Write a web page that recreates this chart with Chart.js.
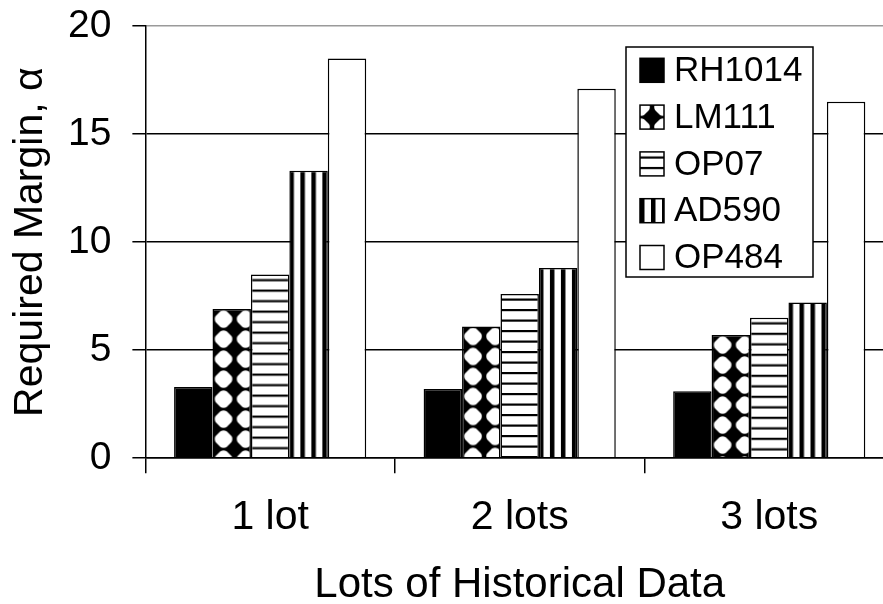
<!DOCTYPE html>
<html>
<head>
<meta charset="utf-8">
<script src="https://cdn.jsdelivr.net/npm/chart.js@4.4.1/dist/chart.umd.min.js"></script>
<style>
  html, body { margin: 0; padding: 0; background: #fff; overflow: hidden; }
  /* plot runs a little past the right edge of the window, like the cropped figure */
  #wrap { width: 894px; height: 604px; }
</style>
</head>
<body>
<div id="wrap"><canvas id="marginChart"></canvas></div>
<script>
// === DATA ===
const lots = ['1 lot', '2 lots', '3 lots'];
const parts = ['RH1014', 'LM111', 'OP07', 'AD590', 'OP484'];
const rh1014 = [3.3, 3.2, 3.1];
const lm111 = [6.9, 6.1, 5.7];
const op07 = [8.5, 7.6, 6.5];
const ad590 = [13.3, 8.8, 7.2];
const op484 = [18.5, 17.1, 16.5];
const yTicks = [0, 5, 10, 15, 20];

const FONT = "'Liberation Sans', Arial, sans-serif";

// === FILL PATTERNS (black & white hatching like the print) ===
function makeTile(kind) {
    const c = document.createElement('canvas');
    const g = c.getContext('2d');
    if (kind === 'diamond') {
        c.width = 22; c.height = 20;
        g.fillStyle = '#000'; g.fillRect(0, 0, 22, 20);
        g.fillStyle = '#fff';
        g.beginPath(); g.arc(11, 10, 8.8, 0, Math.PI * 2); g.fill();
        g.fillStyle = '#000';
        [[0, 0], [22, 0], [0, 20], [22, 20]].forEach(([cx, cy]) => {
            g.beginPath();
            g.moveTo(cx - 10, cy); g.lineTo(cx, cy - 10); g.lineTo(cx + 10, cy); g.lineTo(cx, cy + 10);
            g.closePath(); g.fill();
        });
    } else if (kind === 'hlines') {
        c.width = 4; c.height = 21;
        g.fillStyle = '#fff'; g.fillRect(0, 0, 4, 21);
        g.fillStyle = '#000';
        g.fillRect(0, 4.5, 4, 2.2);
        g.fillRect(0, 15, 4, 2.2);
    } else if (kind === 'vlines') {
        c.width = 11; c.height = 4;
        g.fillStyle = '#fff'; g.fillRect(0, 0, 11, 4);
        g.fillStyle = '#000';
        g.fillRect(0, 0, 4.5, 4);
    }
    return c;
}

const fillKinds = ['solid', 'diamond', 'hlines', 'vlines', 'white'];
const tmpCtx = document.createElement('canvas').getContext('2d');

function makeFill(kind) {
    if (kind === 'solid') return '#000';
    if (kind === 'white') return '#fff';
    return tmpCtx.createPattern(makeTile(kind), 'repeat');
}

// one pattern per bar so each can be lined up with its own bar
function barFills(kind) {
    return lots.map(() => makeFill(kind));
}

const seriesValues = [rh1014, lm111, op07, ad590, op484];

const datasets = parts.map((name, i) => ({
    label: name,
    data: seriesValues[i],
    backgroundColor: barFills(fillKinds[i]),
    borderColor: '#000',
    borderWidth: 1.5,
    borderSkipped: 'start',
    categoryPercentage: 0.77,
    barPercentage: 1.0
}));

const legendFills = fillKinds.map(makeFill);

// === PLUGINS ===
// line patterns up with each bar's top-left corner
const alignPatterns = {
    id: 'alignPatterns',
    beforeDatasetsDraw(chart) {
        chart.data.datasets.forEach((ds, i) => {
            const meta = chart.getDatasetMeta(i);
            meta.data.forEach((bar, j) => {
                const bg = ds.backgroundColor[j];
                if (bg instanceof CanvasPattern) {
                    bg.setTransform(new DOMMatrix().translate(bar.x - bar.width / 2, bar.y));
                }
            });
        });
    }
};

// boxed legend inside the plot, top right
const boxLegend = {
    id: 'boxLegend',
    afterDatasetsDraw(chart, args, opts) {
        const ctx = chart.ctx;
        const { left, top, right, bottom, rowStart, rowGap, swatchX, swatch, textX } = opts;
        ctx.save();
        ctx.fillStyle = '#fff';
        ctx.fillRect(left, top, right - left, bottom - top);
        ctx.strokeStyle = '#000';
        ctx.lineWidth = 1.5;
        ctx.strokeRect(left, top, right - left, bottom - top);

        ctx.font = opts.fontSize + 'px ' + FONT;
        ctx.textBaseline = 'middle';
        ctx.textAlign = 'left';
        chart.data.datasets.forEach((ds, i) => {
            const cy = rowStart + i * rowGap;
            const sy = cy - swatch / 2;
            const fill = legendFills[i];
            if (fill instanceof CanvasPattern) {
                const dx = fillKinds[i] === 'diamond' ? swatchX + swatch / 2 : swatchX;
                const dy = fillKinds[i] === 'diamond' ? cy : sy;
                fill.setTransform(new DOMMatrix().translate(dx, dy));
            }
            ctx.fillStyle = fill;
            ctx.fillRect(swatchX, sy, swatch, swatch);
            ctx.strokeStyle = '#000';
            ctx.lineWidth = 1.5;
            ctx.strokeRect(swatchX, sy, swatch, swatch);
            ctx.fillStyle = '#000';
            ctx.fillText(ds.label, textX, cy + 1);
        });
        ctx.restore();
    }
};

// === CHART ===
const ctx = document.getElementById('marginChart').getContext('2d');
const marginChart = new Chart(ctx, {
    type: 'bar',
    data: { labels: lots, datasets: datasets },
    options: {
        responsive: true,
        maintainAspectRatio: false,
        animation: false,
        layout: { padding: { top: 26, right: 0, bottom: 2, left: 0 } },
        scales: {
            x: {
                grid: {
                    offset: true,
                    drawOnChartArea: false,
                    drawTicks: true,
                    tickLength: 15,
                    color: '#000',
                    lineWidth: 1.5
                },
                border: { display: true, color: '#000', width: 1.5, z: 1 },
                ticks: {
                    color: '#000',
                    font: { family: FONT, size: 41 },
                    padding: 20,
                    maxRotation: 0,
                    autoSkip: false
                },
                title: {
                    display: true,
                    text: 'Lots of Historical Data',
                    color: '#000',
                    font: { family: FONT, size: 42, lineHeight: 0.8 },
                    padding: { top: 6, bottom: 0 }
                }
            },
            y: {
                min: yTicks[0],
                max: yTicks[yTicks.length - 1],
                afterBuildTicks(scale) {
                    scale.ticks = yTicks.map(v => ({ value: v }));
                },
                grid: {
                    color: (c) => (c.tick && c.tick.value === 20 ? '#9a9a9a' : '#000'),
                    tickColor: '#000',
                    lineWidth: 1.5,
                    tickLength: 13
                },
                border: { display: true, color: '#000', width: 1.5 },
                ticks: {
                    color: '#000',
                    font: { family: FONT, size: 39, lineHeight: 0.25 },
                    padding: 21
                },
                title: {
                    display: true,
                    text: 'Required Margin, α',
                    color: '#000',
                    font: { family: FONT, size: 41, lineHeight: 0.5 },
                    padding: { top: 20.75, bottom: 5.75 }
                }
            }
        },
        plugins: {
            legend: { display: false },
            tooltip: { enabled: false },
            boxLegend: {
                left: 626, top: 47, right: 813, bottom: 277,
                rowStart: 70.3, rowGap: 46.8,
                swatchX: 640, swatch: 24, textX: 674,
                fontSize: 35
            }
        }
    },
    plugins: [alignPatterns, boxLegend]
});
</script>
</body>
</html>
